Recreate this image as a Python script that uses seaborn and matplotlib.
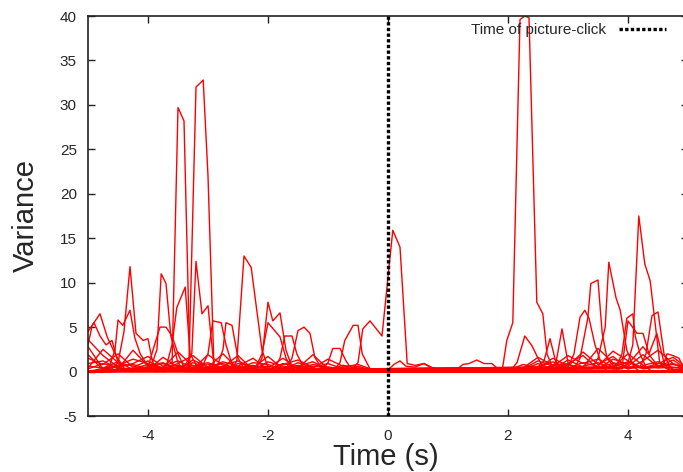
import matplotlib
matplotlib.use("Agg")
import matplotlib.pyplot as plt
import numpy as np
import pandas as pd
import seaborn as sns

# background noise traces, sampled every 0.25 s from -5 to 5
bg_time = np.linspace(-5, 5, 41)
bg1 = [1.5, 0.8, 2.0, 0.5, 1.2, 0.3, 0.9, 1.8, 0.4, 1.1,
       0.6, 1.5, 0.2, 0.8, 1.3, 0.5, 0.9, 0.3, 0.2, 0.1,
       0.0, 0.0, 0.0, 0.0, 0.0, 0.0, 0.0, 0.0, 0.0, 0.3,
       1.2, 0.6, 1.8, 0.9, 1.4, 0.5, 2.0, 0.7, 1.1, 0.4, 0.6]
bg2 = [0.4, 2.5, 1.0, 0.6, 0.2, 1.6, 0.5, 0.3, 1.9, 0.7,
       1.2, 0.4, 1.7, 0.3, 0.6, 1.1, 0.2, 0.7, 0.4, 0.2,
       0.1, 0.0, 0.0, 0.0, 0.0, 0.0, 0.0, 0.0, 0.1, 0.8,
       0.4, 1.5, 0.6, 2.2, 0.8, 1.7, 0.3, 1.2, 2.4, 0.9, 0.3]
bg3 = [2.8, 0.3, 0.7, 1.4, 0.9, 0.4, 2.2, 0.6, 1.0, 0.3,
       0.9, 0.6, 0.4, 1.5, 0.3, 0.8, 0.5, 0.2, 0.6, 0.1,
       0.0, 0.1, 0.0, 0.0, 0.0, 0.0, 0.0, 0.0, 0.0, 0.2,
       0.9, 0.3, 1.3, 0.5, 2.6, 1.0, 0.6, 1.9, 0.5, 1.3, 0.2]
bg4 = [0.9, 1.2, 0.3, 2.4, 0.6, 1.0, 0.2, 1.3, 0.5, 2.0,
       0.3, 1.0, 0.8, 0.2, 1.0, 0.4, 1.4, 0.6, 0.1, 0.3,
       0.0, 0.0, 0.0, 0.0, 0.0, 0.0, 0.0, 0.0, 0.0, 0.1,
       0.5, 1.1, 0.4, 1.0, 0.6, 2.3, 1.2, 0.4, 0.9, 1.6, 0.4]
bg5 = [3.6, 1.8, 0.5, 0.9, 1.7, 0.6, 1.2, 0.4, 0.8, 0.5,
       1.8, 0.2, 1.1, 0.6, 0.4, 1.9, 0.3, 0.5, 0.8, 0.2,
       0.0, 0.0, 0.0, 0.0, 0.0, 0.0, 0.0, 0.0, 0.0, 0.4,
       1.6, 0.7, 0.9, 1.8, 0.3, 1.4, 0.8, 2.8, 0.6, 0.9, 0.1]
bg6 = [0.6, 0.4, 1.1, 0.2, 0.5, 0.9, 0.3, 0.7, 0.2, 0.6,
       0.4, 0.7, 0.3, 0.5, 0.2, 0.6, 0.4, 0.1, 0.3, 0.0,
       0.0, 0.0, 0.0, 0.0, 0.0, 0.0, 0.0, 0.0, 0.0, 0.1,
       0.3, 0.5, 0.2, 0.6, 1.0, 0.3, 0.5, 0.4, 0.7, 0.2, 0.3]
bg7 = [1.9, 0.2, 0.6, 0.8, 0.3, 0.4, 0.7, 0.2, 0.5, 0.9,
       0.2, 0.5, 0.6, 0.3, 0.7, 0.2, 0.5, 0.3, 0.4, 0.2,
       0.1, 0.0, 0.0, 0.0, 0.0, 0.0, 0.0, 0.0, 0.0, 0.0,
       0.6, 0.2, 0.8, 0.4, 0.5, 0.9, 0.3, 0.6, 0.4, 0.5, 0.2]
bg8 = [0.3, 0.9, 0.4, 0.3, 0.8, 0.2, 0.5, 1.0, 0.3, 0.4,
       0.6, 0.3, 0.2, 0.9, 0.5, 0.3, 0.2, 0.4, 0.1, 0.1,
       0.0, 0.0, 0.0, 0.0, 0.0, 0.0, 0.0, 0.0, 0.0, 0.1,
       0.2, 0.7, 0.3, 0.5, 0.4, 0.6, 1.1, 0.3, 0.5, 0.8, 0.5]

# traces with visible bursts, (time, variance) points
ev01 = [(-5.0, 0), (-3.7, 0), (-3.6, 0.5), (-3.5, 29.7), (-3.4, 28.2), (-3.3, 0.3), (-3.2, 0), (5.0, 0)]
ev02 = [(-5.0, 0), (-3.32, 0.2), (-3.2, 32.0), (-3.08, 32.8), (-3.0, 22.0), (-2.9, 0.4), (-2.8, 0), (5.0, 0)]
ev03 = [(-5.0, 0), (-3.4, 0.5), (-3.27, 2.0), (-3.2, 12.4), (-3.1, 6.5), (-3.0, 7.4), (-2.9, 0.6), (-2.8, 0.2), (5.0, 0)]
ev04 = [(-5.0, 0), (-3.95, 0.5), (-3.85, 2.5), (-3.78, 11.0), (-3.7, 9.9), (-3.62, 4.0), (-3.5, 1.0), (-3.4, 0), (5.0, 0)]
ev05 = [(-5.0, 0), (-3.7, 0.5), (-3.6, 3.0), (-3.52, 7.2), (-3.38, 9.5), (-3.3, 2.0), (-3.2, 0.8), (-3.1, 0), (5.0, 0)]
ev06 = [(-5.0, 0), (-4.6, 0.3), (-4.5, 1.0), (-4.4, 4.5), (-4.3, 11.8), (-4.2, 4.3), (-4.08, 3.5), (-4.0, 3.7),
        (-3.92, 0.9), (-3.8, 0.2), (5.0, 0)]
ev07 = [(-5.0, 0), (-4.65, 0.5), (-4.55, 2.4), (-4.5, 5.8), (-4.42, 5.2), (-4.3, 6.9), (-4.22, 3.8), (-4.13, 2.0),
        (-4.0, 0.6), (-3.9, 0), (5.0, 0)]
ev08 = [(-5.0, 3.0), (-4.93, 5.2), (-4.8, 6.5), (-4.68, 3.9), (-4.55, 2.0), (-4.4, 0.4), (-4.3, 0), (5.0, 0)]
ev09 = [(-5.0, 4.5), (-4.9, 5.5), (-4.8, 4.0), (-4.7, 3.0), (-4.6, 3.5), (-4.5, 1.0), (-4.4, 0), (5.0, 0)]
ev10 = [(-5.0, 0), (-4.0, 0.5), (-3.9, 2.8), (-3.8, 5.0), (-3.7, 5.0), (-3.6, 4.0), (-3.5, 2.0), (-3.4, 0.5),
        (-3.3, 0), (5.0, 0)]
ev11 = [(-5.0, 0), (-3.1, 0.5), (-3.0, 2.0), (-2.92, 5.7), (-2.78, 5.5), (-2.7, 3.0), (-2.6, 0.8), (-2.5, 0), (5.0, 0)]
ev12 = [(-5.0, 0), (-2.85, 0.5), (-2.75, 2.5), (-2.7, 5.5), (-2.6, 5.2), (-2.5, 1.5), (-2.4, 0.3), (-2.3, 0), (5.0, 0)]
ev13 = [(-5.0, 0), (-2.6, 0.3), (-2.52, 1.2), (-2.4, 13.0), (-2.28, 11.7), (-2.1, 2.4), (-2.0, 0.5), (-1.9, 0), (5.0, 0)]
ev14 = [(-5.0, 0), (-2.2, 0.3), (-2.1, 1.5), (-2.0, 7.8), (-1.92, 5.7), (-1.8, 6.6), (-1.7, 2.4), (-1.6, 0.5),
        (-1.5, 0), (5.0, 0)]
ev15 = [(-5.0, 0), (-2.2, 0.5), (-2.1, 2.0), (-2.0, 5.5), (-1.8, 3.9), (-1.7, 1.5), (-1.6, 0.3), (-1.5, 0), (5.0, 0)]
ev16 = [(-5.0, 0), (-1.9, 0.3), (-1.8, 1.5), (-1.72, 4.0), (-1.6, 4.0), (-1.52, 2.0), (-1.4, 0.4), (-1.3, 0), (5.0, 0)]
ev17 = [(-5.0, 0), (-1.7, 0.3), (-1.6, 1.5), (-1.5, 4.6), (-1.4, 5.0), (-1.3, 4.3), (-1.22, 1.6), (-1.1, 0.3),
        (-1.0, 0), (5.0, 0)]
ev18 = [(-5.0, 0), (-1.1, 0.2), (-1.0, 1.0), (-0.92, 2.6), (-0.8, 2.6), (-0.7, 1.2), (-0.6, 0.2), (-0.5, 0), (5.0, 0)]
ev19 = [(-5.0, 0), (-0.9, 0.2), (-0.8, 1.0), (-0.72, 3.5), (-0.58, 5.2), (-0.5, 5.2), (-0.43, 2.0), (-0.3, 0.3),
        (-0.2, 0), (5.0, 0)]
ev20 = [(-5.0, 0), (-0.6, 0.3), (-0.5, 1.0), (-0.42, 4.8), (-0.3, 5.7), (-0.1, 4.0), (0.08, 15.9), (0.2, 14.0),
        (0.32, 0.9), (0.45, 0.7), (0.6, 0.9), (0.75, 0.4), (1.0, 0.1), (1.2, 0), (5.0, 0)]
ev21 = [(-5.0, 0), (0.0, 0.2), (0.1, 0.8), (0.2, 1.2), (0.3, 0.6), (0.45, 0.5), (0.6, 0.9), (0.7, 0.5), (0.85, 0.2),
        (1.0, 0), (5.0, 0)]
ev22 = [(-5.0, 0), (1.1, 0), (1.25, 0.8), (1.35, 0.9), (1.48, 1.3), (1.6, 0.9), (1.73, 0.9), (1.87, 0.1), (2.0, 0),
        (5.0, 0)]
ev23 = [(-5.0, 0), (1.9, 0), (1.98, 3.5), (2.08, 5.5), (2.2, 39.6), (2.28, 40.0), (2.35, 39.8), (2.48, 7.8),
        (2.58, 6.5), (2.65, 2.0), (2.75, 0.3), (2.85, 0), (5.0, 0)]
ev24 = [(-5.0, 0), (3.9, 0.3), (4.0, 1.0), (4.08, 3.0), (4.18, 17.5), (4.28, 12.1), (4.37, 10.2), (4.53, 0.9),
        (4.65, 0.3), (4.75, 0), (5.0, 0)]
ev25 = [(-5.0, 0), (3.4, 0.3), (3.5, 1.5), (3.62, 5.0), (3.68, 12.3), (3.8, 8.3), (3.87, 6.9), (3.98, 2.4),
        (4.1, 0.5), (4.2, 0), (5.0, 0)]
ev26 = [(-5.0, 0), (3.1, 0.3), (3.2, 1.5), (3.33, 6.0), (3.38, 9.9), (3.5, 10.3), (3.57, 4.3), (3.65, 1.5),
        (3.8, 0.3), (3.9, 0), (5.0, 0)]
ev27 = [(-5.0, 0), (3.0, 0.5), (3.1, 2.0), (3.2, 6.1), (3.28, 6.9), (3.35, 6.0), (3.45, 3.0), (3.55, 1.0),
        (3.65, 0), (5.0, 0)]
ev28 = [(-5.0, 0), (2.7, 0.5), (2.8, 1.0), (2.9, 4.8), (3.0, 1.0), (3.1, 0.3), (3.2, 0), (5.0, 0)]
ev29 = [(-5.0, 0), (2.05, 0.2), (2.15, 1.0), (2.28, 4.0), (2.4, 2.9), (2.5, 1.5), (2.6, 0.3), (2.7, 0), (5.0, 0)]
ev30 = [(-5.0, 0), (2.5, 0.5), (2.6, 1.2), (2.7, 3.7), (2.8, 1.0), (2.9, 0.2), (3.0, 0), (5.0, 0)]
ev31 = [(-5.0, 0), (3.8, 0.5), (3.9, 2.0), (3.98, 6.0), (4.08, 6.5), (4.12, 4.0), (4.2, 2.0), (4.3, 0.5), (4.4, 0),
        (5.0, 0)]
ev32 = [(-5.0, 0), (4.2, 0.5), (4.3, 2.0), (4.4, 6.3), (4.5, 6.7), (4.6, 2.0), (4.7, 0.5), (4.8, 0), (5.0, 0)]
ev33 = [(-5.0, 0), (4.5, 0.5), (4.6, 1.0), (4.65, 2.0), (4.75, 1.8), (4.85, 1.5), (4.92, 0.5), (5.0, 0)]
ev34 = [(-5.0, 0), (3.9, 0.4), (4.0, 5.7), (4.15, 4.3), (4.25, 4.3), (4.35, 2.0), (4.48, 4.3), (4.6, 1.0),
        (4.7, 0), (5.0, 0)]

click_time = 0.0
xticks = [-4, -2, 0, 2, 4]
yticks = [-5, 0, 5, 10, 15, 20, 25, 30, 35, 40]


def main():
    frames = []
    for i, vals in enumerate([bg1, bg2, bg3, bg4, bg5, bg6, bg7, bg8]):
        frames.append(pd.DataFrame({"time": bg_time, "variance": vals, "trace": f"bg{i}"}))
    events = [ev01, ev02, ev03, ev04, ev05, ev06, ev07, ev08, ev09, ev10, ev11, ev12,
              ev13, ev14, ev15, ev16, ev17, ev18, ev19, ev20, ev21, ev22, ev23, ev24,
              ev25, ev26, ev27, ev28, ev29, ev30, ev31, ev32, ev33, ev34]
    for i, pts in enumerate(events):
        df = pd.DataFrame(pts, columns=["time", "variance"])
        df["trace"] = f"ev{i}"
        frames.append(df)
    data = pd.concat(frames, ignore_index=True)

    sns.set_style("ticks")
    plt.rcParams["font.family"] = ["Liberation Sans", "DejaVu Sans"]
    plt.rcParams["axes.unicode_minus"] = False

    fig = plt.figure(figsize=(6.83, 4.72), dpi=100)
    ax = fig.add_axes([88 / 683, 56 / 472, 600 / 683, 400 / 472])

    sns.lineplot(data=data, x="time", y="variance", units="trace", estimator=None,
                 color="#ff0000", lw=1.0, ax=ax, legend=False)
    ax.axvline(click_time, color="black", lw=2.4, ls=(0, (1, 0.7)), zorder=5,
               label="Time of picture-click")

    ax.set_xlim(-5, 5)
    ax.set_ylim(-5, 40)
    ax.set_xticks(xticks)
    ax.set_yticks(yticks)
    ax.tick_params(direction="in", top=True, right=True, length=5, width=1,
                   labelsize=11, color="#222222")
    ax.tick_params(axis="x", pad=9)
    ax.tick_params(axis="y", pad=8)
    for s in ax.spines.values():
        s.set_linewidth(1.2)
        s.set_color("#222222")

    ax.set_xlabel("Time (s)", fontsize=21)
    ax.set_ylabel("Variance", fontsize=21)
    ax.xaxis.set_label_coords(0.497, -0.068)
    ax.yaxis.set_label_coords(-0.08, 0.5)

    ax.legend(loc="center right", bbox_to_anchor=(666 / 683, 1 - 30 / 472),
              bbox_transform=fig.transFigure, frameon=False, markerfirst=False,
              fontsize=11, handlelength=3.1, handletextpad=0.8, borderpad=0,
              borderaxespad=0)

    fig.savefig("out.png", dpi=100)


if __name__ == "__main__":
    main()
